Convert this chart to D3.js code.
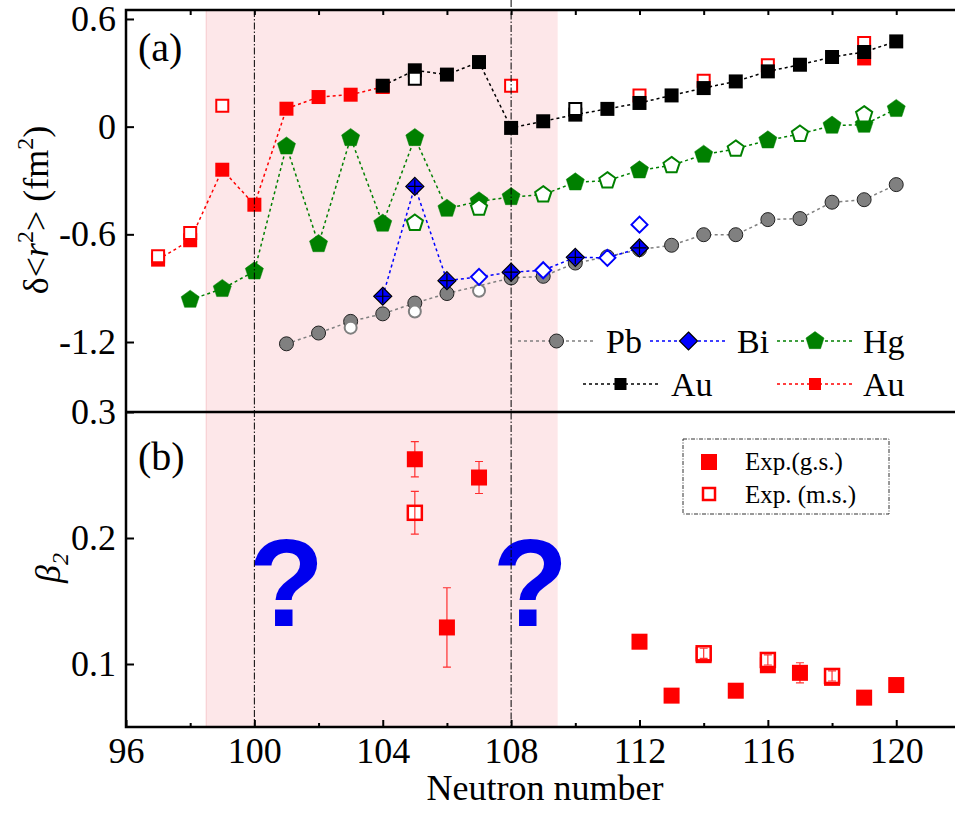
<!DOCTYPE html>
<html>
<head>
<meta charset="utf-8">
<script src="https://d3js.org/d3.v7.min.js"></script>
<style>
  body { margin: 0; background: #fff; }
  svg text { font-family: "Liberation Serif", "Times New Roman", Times, serif; }
</style>
</head>
<body>
<svg id="chart" width="955" height="816"></svg>
<script>
// ---- (a) delta <r^2> in fm^2 ----
const pbLineN = [101, 102, 103, 104, 105, 106, 108, 109, 110, 111, 112, 113, 114, 115, 116, 117, 118, 119, 120];
const pbLineV = [-1.21, -1.15, -1.085, -1.043, -0.983, -0.93, -0.843, -0.834, -0.76, -0.725, -0.685, -0.661, -0.602, -0.602, -0.518, -0.512, -0.421, -0.407, -0.323];
const pbIsoN = [103, 105, 107];
const pbIsoV = [-1.12, -1.03, -0.914];

const biLineN = [104, 105, 106, 107, 108, 109, 110, 111, 112];
const biLineV = [-0.945, -0.333, -0.858, -0.837, -0.811, -0.8, -0.728, -0.731, -0.676];
const biOpenN = [107, 109, 111];
const biIsoN = [112];
const biIsoV = [-0.546];

const hgLineN = [98, 99, 100, 101, 102, 103, 104, 105, 106, 107, 108, 109, 110, 111, 112, 113, 114, 115, 116, 117, 118, 119, 120];
const hgLineV = [-0.964, -0.904, -0.806, -0.11, -0.654, -0.063, -0.54, -0.063, -0.457, -0.416, -0.392, -0.379, -0.31, -0.301, -0.243, -0.216, -0.156, -0.124, -0.076, -0.041, 0.006, 0.011, 0.099];
const hgOpenN = [109, 111, 113, 115, 117];
const hgIsoN = [105, 107, 119];
const hgIsoV = [-0.537, -0.453, 0.067];

const auLineN = [104, 105, 106, 107, 108, 109, 110, 111, 112, 113, 114, 115, 116, 117, 118, 119, 120];
const auLineV = [0.228, 0.314, 0.29, 0.36, -0.007, 0.03, 0.067, 0.099, 0.132, 0.174, 0.215, 0.252, 0.308, 0.345, 0.388, 0.416, 0.475];
const auIsoN = [105, 110];
const auIsoV = [0.267, 0.099];

const auRedLineN = [97, 98, 99, 100, 101, 102, 103, 104];
const auRedLineV = [-0.741, -0.633, -0.24, -0.435, 0.1, 0.165, 0.178, 0.221];
const auRedExtraN = [119];
const auRedExtraV = [0.38];
const auRedIsoN = [97, 98, 99, 108, 112, 114, 116, 119];
const auRedIsoV = [-0.722, -0.592, 0.117, 0.228, 0.173, 0.256, 0.342, 0.466];

// ---- (b) beta_2 ----
const gsN = [105, 106, 107, 112, 113, 114, 115, 116, 117, 118, 119, 120];
const gsV = [0.2625, 0.129, 0.248, 0.1177, 0.0749, 0.107, 0.0788, 0.099, 0.093, 0.089, 0.0733, 0.0833];
const gsErr = [0.014, 0.0315, 0.0127, 0, 0, 0, 0, 0, 0.008, 0, 0, 0];
const msN = [105, 114, 116, 118];
const msV = [0.22, 0.1085, 0.1032, 0.0905];
const msErr = [0.017, 0.004, 0.004, 0.004];

const xTicks = [96, 100, 104, 108, 112, 116, 120];
const yTicksA = [0.6, 0, -0.6, -1.2];
const yTicksB = [0.3, 0.2, 0.1];
const shadeRange = [98.5, 109.45];
const magicN = [100, 108];

const legendA = ["Pb", "Bi", "Hg", "Au", "Au"];
const legendB = ["Exp.(g.s.)", "Exp. (m.s.)"];

const serif = "'Liberation Serif', 'Times New Roman', Times, serif";

// ---- scales ----
const svg = d3.select("#chart");
const pLeft = 126, pRight = 954, pTop = 10, pMid = 412, pBottom = 727;
const x = d3.scaleLinear().domain([96, 121.8]).range([pLeft, pRight]);
const yA = d3.scaleLinear().domain([-1.59, 0.65]).range([pMid, pTop]);
const yB = d3.scaleLinear().domain([0.05, 0.3]).range([pBottom, pMid]);

// shaded region
svg.append("rect")
  .attr("x", x(shadeRange[0])).attr("y", pTop)
  .attr("width", x(shadeRange[1]) - x(shadeRange[0])).attr("height", pBottom - pTop)
  .attr("fill", "#fde7e9");
svg.append("line")
  .attr("x1", x(shadeRange[0])).attr("x2", x(shadeRange[0]))
  .attr("y1", pTop).attr("y2", pBottom)
  .attr("stroke", "#f6c9cd").attr("stroke-width", 1);

function shapePath(shape, s) {
  if (shape === "square") return `M${-s},${-s}h${2 * s}v${2 * s}h${-2 * s}Z`;
  if (shape === "diamond") return `M0,${-s}L${s},0L0,${s}L${-s},0Z`;
  if (shape === "circle") return `M${-s},0a${s},${s} 0 1,0 ${2 * s},0a${s},${s} 0 1,0 ${-2 * s},0Z`;
  // pentagon
  const pts = d3.range(5).map(k => {
    const a = -Math.PI / 2 + k * 2 * Math.PI / 5;
    return [s * Math.cos(a), s * Math.sin(a)];
  });
  return "M" + pts.map(p => p.join(",")).join("L") + "Z";
}

const styles = {
  Pb: { shape: "circle", color: "#808080", size: 7, fill: "#808080", edge: "#222", edgeW: 1 },
  Bi: { shape: "diamond", color: "#0000ff", size: 9, fill: "#0000ff", edge: "#000", edgeW: 1.2, cross: true },
  Hg: { shape: "pentagon", color: "#008000", size: 9.5, fill: "#008000", edge: "#008000", edgeW: 0.5 },
  Au: { shape: "square", color: "#000", size: 7, fill: "#000", edge: "#000", edgeW: 0 },
  AuRed: { shape: "square", color: "#ff0000", size: 7, fill: "#ff0000", edge: "#ff0000", edgeW: 0 }
};

function drawMarker(g, st, cx, cy, open) {
  if (open) {
    g.append("path").attr("d", shapePath(st.shape, st.size - 1))
      .attr("transform", `translate(${cx},${cy})`)
      .attr("fill", "#fff").attr("stroke", st.color).attr("stroke-width", 2);
  } else {
    g.append("path").attr("d", shapePath(st.shape, st.size))
      .attr("transform", `translate(${cx},${cy})`)
      .attr("fill", st.fill).attr("stroke", st.edge).attr("stroke-width", st.edgeW);
    if (st.cross) {
      g.append("path").attr("d", `M${cx - 7},${cy}H${cx + 7}M${cx},${cy - 7}V${cy + 7}`)
        .attr("stroke", "#000").attr("stroke-width", 1.2);
    }
  }
}

const gA = svg.append("g");
function drawSeries(st, lineN, lineV, openN, extraN, extraV, isoN, isoV) {
  const pts = lineN.map((n, i) => ({ n, v: lineV[i], open: openN.includes(n) }));
  gA.append("path").datum(pts)
    .attr("d", d3.line().x(d => x(d.n)).y(d => yA(d.v)))
    .attr("fill", "none").attr("stroke", st.color)
    .attr("stroke-width", 1.5).attr("stroke-dasharray", "3,3");
  pts.filter(d => !d.open).forEach(d => drawMarker(gA, st, x(d.n), yA(d.v), false));
  extraN.forEach((n, i) => drawMarker(gA, st, x(n), yA(extraV[i]), false));
  pts.filter(d => d.open).forEach(d => drawMarker(gA, st, x(d.n), yA(d.v), true));
  isoN.forEach((n, i) => drawMarker(gA, st, x(n), yA(isoV[i]), true));
}

drawSeries(styles.AuRed, auRedLineN, auRedLineV, [], auRedExtraN, auRedExtraV, auRedIsoN, auRedIsoV);
drawSeries(styles.Au, auLineN, auLineV, [], [], [], auIsoN, auIsoV);
drawSeries(styles.Hg, hgLineN, hgLineV, hgOpenN, [], [], hgIsoN, hgIsoV);
drawSeries(styles.Pb, pbLineN, pbLineV, [], [], [], pbIsoN, pbIsoV);
drawSeries(styles.Bi, biLineN, biLineV, biOpenN, [], [], biIsoN, biIsoV);

// ---- (b) points with error bars ----
const gB = svg.append("g");
function errBar(n, v, e) {
  if (!e) return;
  const cx = x(n);
  gB.append("path")
    .attr("d", `M${cx},${yB(v - e)}V${yB(v + e)}M${cx - 4},${yB(v - e)}H${cx + 4}M${cx - 4},${yB(v + e)}H${cx + 4}`)
    .attr("stroke", "#ff0000").attr("stroke-width", 1.2).attr("fill", "none").attr("opacity", 0.8);
}
gsN.forEach((n, i) => {
  gB.append("rect").attr("x", x(n) - 8).attr("y", yB(gsV[i]) - 8)
    .attr("width", 16).attr("height", 16).attr("fill", "#ff0000");
  errBar(n, gsV[i], gsErr[i]);
});
msN.forEach((n, i) => {
  gB.append("rect").attr("x", x(n) - 7).attr("y", yB(msV[i]) - 7)
    .attr("width", 14).attr("height", 14).attr("fill", "#fff")
    .attr("stroke", "#ff0000").attr("stroke-width", 2.5);
  errBar(n, msV[i], msErr[i]);
});

// question marks
[101, 108.6].forEach(n => {
  svg.append("text").attr("x", x(n)).attr("y", 626)
    .attr("text-anchor", "middle")
    .style("font-family", "'Liberation Sans', Arial, sans-serif")
    .style("font-weight", "bold").style("font-size", "124px")
    .attr("fill", "#0000ee").text("?");
});

// magic-number lines
magicN.forEach((n, i) => {
  svg.append("line").attr("x1", x(n)).attr("x2", x(n))
    .attr("y1", i === 0 ? pTop : 0).attr("y2", pBottom)
    .attr("stroke", "#000").attr("stroke-width", 1)
    .attr("stroke-dasharray", "7,2,1.5,2");
});

// ---- axes ----
const fmt = d => d === 0 ? "0" : d.toFixed(1);
const axes = [];
axes.push(svg.append("g").attr("transform", `translate(0,${pBottom})`)
  .call(d3.axisBottom(x).tickValues(xTicks).tickSize(-7).tickPadding(10)));
axes.push(svg.append("g").attr("transform", `translate(0,${pBottom})`)
  .call(d3.axisBottom(x).tickValues(xTicks.slice(0, -1).map(d => d + 2)).tickSize(-4).tickFormat("")));
axes.push(svg.append("g").attr("transform", `translate(0,${pTop})`)
  .call(d3.axisTop(x).tickValues(d3.range(98, 121, 2)).tickSize(-5).tickFormat("")));
axes.push(svg.append("g").attr("transform", `translate(${pLeft},0)`)
  .call(d3.axisLeft(yA).tickValues(yTicksA).tickSize(-8).tickPadding(10).tickFormat(fmt)));
axes.push(svg.append("g").attr("transform", `translate(${pLeft},0)`)
  .call(d3.axisLeft(yB).tickValues(yTicksB).tickSize(-8).tickPadding(10).tickFormat(fmt)));
axes.forEach(g => g.attr("font-family", serif).attr("font-size", 36));
svg.selectAll(".domain").remove();
svg.selectAll(".tick line").attr("stroke", "#000").attr("stroke-width", 2);
svg.selectAll(".tick text").attr("fill", "#000");

// frame
svg.append("path")
  .attr("d", `M${pRight + 4},${pTop}H${pLeft}V${pBottom}H${pRight + 4}M${pLeft},${pMid}H${pRight + 4}`)
  .attr("fill", "none").attr("stroke", "#000").attr("stroke-width", 2.5);

// panel labels
svg.append("text").attr("x", 138).attr("y", 61).style("font-size", "40px").text("(a)");
svg.append("text").attr("x", 138).attr("y", 470).style("font-size", "40px").text("(b)");

// axis titles
svg.append("text").attr("x", 545).attr("y", 800).attr("text-anchor", "middle")
  .style("font-size", "36px").text("Neutron number");

const yt = svg.append("text").attr("transform", "translate(48,210) rotate(-90)")
  .attr("text-anchor", "middle").style("font-size", "36px");
yt.append("tspan").text("\u03b4<");
yt.append("tspan").style("font-style", "italic").text("r");
yt.append("tspan").attr("dy", -15).style("font-size", "24px").text("2");
yt.append("tspan").attr("dy", 15).text("> (fm");
yt.append("tspan").attr("dy", -15).style("font-size", "24px").text("2");
yt.append("tspan").attr("dy", 15).text(")");

const bt = svg.append("text").attr("transform", "translate(60,568) rotate(-90)")
  .attr("text-anchor", "middle").style("font-size", "36px").style("font-style", "italic");
bt.append("tspan").text("\u03b2");
bt.append("tspan").attr("dy", 8).style("font-size", "24px").text("2");

// ---- legend (a) ----
const legA = svg.append("g");
const legItems = [
  { st: styles.Pb, x0: 518, x1: 595, y: 341, tx: 606 },
  { st: styles.Bi, x0: 650, x1: 727, y: 341, tx: 737 },
  { st: styles.Hg, x0: 777, x1: 853, y: 341, tx: 863 },
  { st: styles.Au, x0: 583, x1: 658, y: 384, tx: 671 },
  { st: styles.AuRed, x0: 777, x1: 853, y: 384, tx: 863 }
];
legItems.forEach((d, i) => {
  legA.append("line").attr("x1", d.x0).attr("x2", d.x1).attr("y1", d.y).attr("y2", d.y)
    .attr("stroke", d.st.color).attr("stroke-width", 1.5).attr("stroke-dasharray", "3,3");
  const st = Object.assign({}, d.st, { cross: false, size: d.st.shape === "square" ? 6 : d.st.size });
  drawMarker(legA, st, (d.x0 + d.x1) / 2, d.y, false);
  legA.append("text").attr("x", d.tx).attr("y", d.y + 12).style("font-size", "34px").text(legendA[i]);
});

// ---- legend (b) ----
const legB = svg.append("g");
legB.append("rect").attr("x", 683).attr("y", 439).attr("width", 206).attr("height", 75)
  .attr("fill", "#fff").attr("stroke", "#333").attr("stroke-width", 1)
  .attr("stroke-dasharray", "4,1.5,1,1.5");
legB.append("rect").attr("x", 701).attr("y", 454).attr("width", 16).attr("height", 16).attr("fill", "#ff0000");
legB.append("rect").attr("x", 703).attr("y", 488).attr("width", 12).attr("height", 12)
  .attr("fill", "#fff").attr("stroke", "#ff0000").attr("stroke-width", 2.5);
legendB.forEach((t, i) => {
  legB.append("text").attr("x", 745).attr("y", 470 + i * 33).style("font-size", "25px").text(t);
});
</script>
</body>
</html>
